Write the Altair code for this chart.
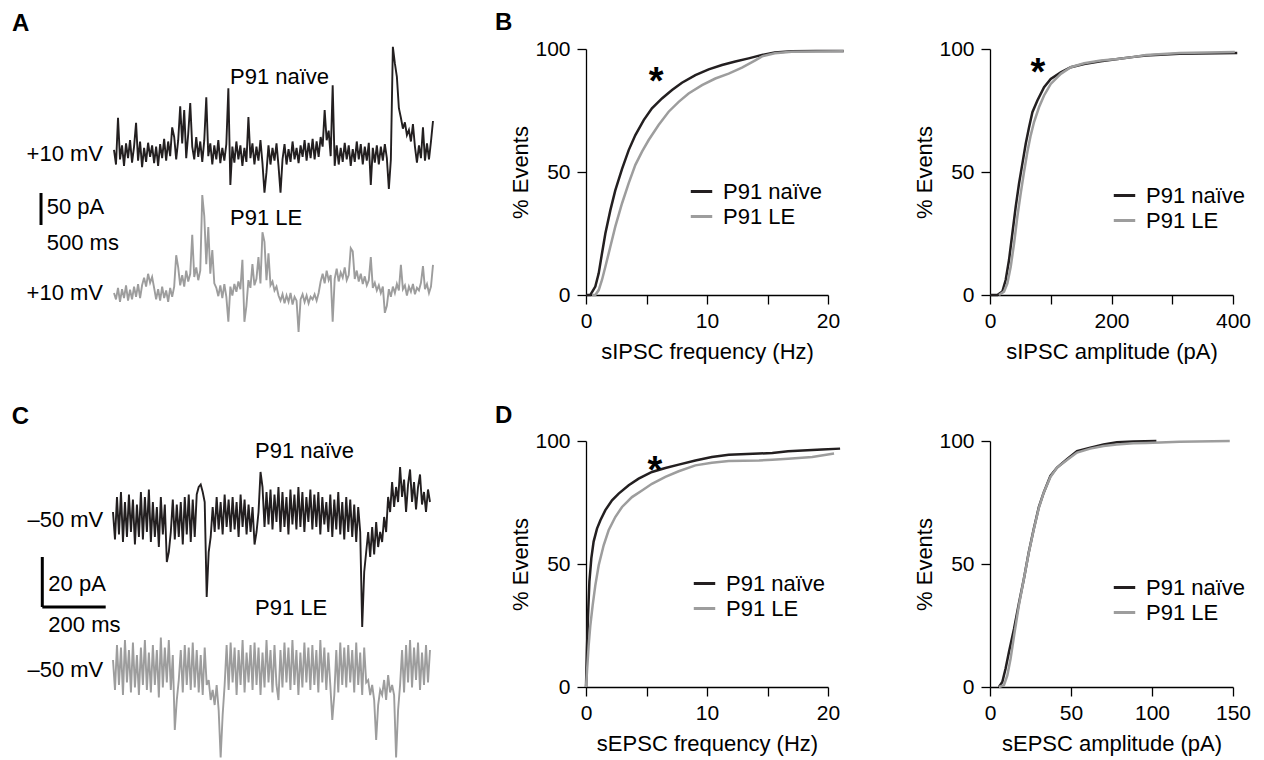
import altair as alt
import pandas as pd
import numpy as np

FONT = "Liberation Sans"
BLACK = "#231f20"
GREY = "#9d9d9d"
SERIES = ["P91 naïve", "P91 LE"]

# ---------------- CDF data ----------------
B1_NAIVE_X = [0.0, 0.36, 0.77, 1.05, 1.32, 1.6, 2.01, 2.42, 2.98, 3.53, 4.08, 4.77, 5.45, 6.28, 7.11, 7.93, 9.04, 10.14, 11.24, 12.34, 13.44, 14.55, 15.6, 17.0, 19.0, 21.3]
B1_NAIVE_Y = [0, 0, 3.4, 8.8, 16.9, 25, 34.4, 42.5, 51.3, 58.9, 65, 71.1, 75.9, 79.9, 83.3, 86.3, 89.4, 91.7, 93.5, 94.9, 96.2, 97.6, 98.6, 99.1, 99.2, 99.2]
B1_LE_X = [0.5, 0.77, 1.05, 1.32, 1.6, 2.01, 2.42, 2.98, 3.53, 4.08, 4.63, 5.18, 6.0, 6.83, 7.66, 8.48, 9.59, 10.69, 11.79, 12.89, 13.99, 14.55, 15.6, 17.0, 19.0, 21.3]
B1_LE_Y = [0, 0, 2, 6.1, 11.5, 19.6, 27.8, 37.3, 45.5, 52.9, 58.3, 63, 69.1, 74.5, 78.5, 81.9, 85.3, 88, 90, 92.4, 95.4, 97, 98.3, 98.9, 99.0, 99.1]

B2_NAIVE_X = [0, 12.1, 20.3, 25.8, 31.3, 36.8, 42.3, 47.8, 53.3, 58.8, 64.3, 69.8, 78, 89, 100, 116.5, 133, 155, 182.4, 210, 237, 257, 312, 407]
B2_NAIVE_Y = [0, 0, 1.4, 6.1, 14.2, 25, 35.8, 45.3, 53.4, 61.5, 68.2, 74.3, 79.1, 84.5, 87.8, 90.5, 92.6, 93.9, 95, 95.9, 96.8, 97.4, 98.1, 98.4]
B2_LE_X = [14.8, 23.1, 28.6, 34.1, 39.6, 45, 50.5, 56, 61.5, 67, 72.5, 80.8, 89, 100, 116.5, 133, 155, 182.4, 210, 237, 257, 312, 403]
B2_LE_Y = [0, 1.4, 4.7, 11.5, 20.9, 31.8, 41.2, 50, 58.1, 64.9, 70.3, 76.4, 81.1, 85.8, 89.9, 92.6, 94.2, 95.3, 95.9, 96.8, 97.6, 98.4, 98.8]

D1_NAIVE_X = [0, 0.08, 0.17, 0.28, 0.44, 0.63, 0.91, 1.19, 1.6, 2.15, 2.7, 3.53, 4.35, 5.45, 6.56, 7.66, 9.04, 10.4, 11.8, 14.3, 15.4, 16.7, 19.5, 21.0]
D1_NAIVE_Y = [0, 15.6, 29.3, 42.8, 52.3, 59.1, 64.4, 67.8, 71.9, 75.9, 78.6, 82, 84.7, 87.4, 89, 90.4, 92.1, 93.5, 94.4, 94.9, 95.1, 95.8, 96.5, 96.9]
D1_LE_X = [0, 0.08, 0.22, 0.36, 0.55, 0.77, 1.05, 1.46, 1.87, 2.42, 2.98, 3.8, 4.63, 5.45, 6.56, 7.66, 9.04, 10.4, 11.8, 14.3, 15.4, 16.7, 18.7, 20.5]
D1_LE_Y = [0, 6.1, 16.9, 25.1, 33.2, 41.3, 49.5, 57.6, 63.7, 69.1, 73.2, 77.2, 79.9, 82.6, 85.4, 87.7, 90.1, 91.2, 91.9, 92.1, 92.4, 92.8, 93.5, 94.9]

D2_NAIVE_X = [5.5, 7.6, 9.6, 11.7, 14.8, 17.8, 20.9, 23.9, 27, 30.1, 33.2, 37.3, 41.4, 47.5, 53.7, 61.9, 70.1, 78.3, 88.5, 102.7]
D2_NAIVE_Y = [0, 2, 7.4, 14.2, 23.6, 33.8, 43.9, 54.7, 64.2, 73, 79.1, 85.8, 89.2, 92.6, 95.9, 97.3, 98.6, 99.5, 99.8, 100]
D2_LE_X = [5.5, 8.6, 10.7, 12.7, 15.2, 17.8, 20.9, 23.9, 27, 30.1, 33.2, 37.3, 41.4, 47.5, 53.7, 61.9, 70.1, 78.3, 88.5, 96.5, 117, 148]
D2_LE_Y = [0, 0.7, 4.7, 11.5, 22.3, 33.1, 43.9, 54.5, 64, 72.7, 79.1, 85.4, 89.2, 92.3, 95.3, 96.9, 98, 98.6, 99.1, 99.2, 99.7, 100]

# ---------------- example traces (pA) ----------------
A_DURATION_MS = 2500
A_BLACK = [5, -18, 55, -10, 12, -20, 15, -8, 20, -15, 10, 47, -12, 18, -22, 8, -14, 16, -6, 12,
           -16, 10, -20, 14, -8, 22, -12, 18, -5, 40, 25, -10, 20, 73, 15, 67, -8, 30, 78, 10,
           -10, 25, -6, 18, -14, 20, 87, -5, 15, -18, 12, -10, 20, -16, 8, -12, 14, 101, -50, 10,
           -15, 18, -10, 12, -20, 8, -14, 56, -8, 15, -18, 10, -12, 20, -16, -62, -30, 12, -18, 8,
           -12, 15, -20, -62, -10, 14, -18, 6, -14, 18, -10, 8, -16, 12, -6, 20, -12, 16, -8, 22,
           -10, 18, -6, 25, 10, 67, 20, 35, -5, 106, -20, 12, -18, 8, -14, 16, -10, 12, -20, 6,
           -14, 18, -10, 14, -18, 10, -12, 16, -50, 8, -15, 12, -18, 10, -12, 14, -8, -56, -10, 166,
           140, 119, 70, 55, 38, 48, 28, 36, 18, 45, 10, -15, 12, -8, 40, -12, 15, -10, 18, 50]
A_GREY = [0, -10, 8, -14, 6, -8, 12, -12, 5, -10, 10, -6, 14, -8, 12, 24, 10, 30, 16, 25,
          8, -10, 6, -12, 10, -8, 4, -14, 8, -6, 10, 59, 40, 12, 28, 10, 35, 18, 30, 91,
          25, 40, 20, 35, 153, 120, 45, 103, 30, 67, 15, 8, -5, 12, -8, 14, -6, -45, 10, -4,
          14, 2, 18, 6, 52, -45, -20, 20, 8, 45, 12, 22, 56, 15, 95, 80, 20, 62, 12, 18,
          4, 10, -4, -12, -2, -16, -4, -14, 0, -18, -6, -12, -61, -10, -2, -14, -4, -16, -6, -10,
          -2, -12, 0, 18, 30, 15, 35, 20, 28, -45, 22, 38, 18, 32, 24, 40, 20, 28, 70, 65,
          22, 35, 18, 30, 14, 26, 12, 20, 56, 8, 16, 4, 12, 0, 10, -31, -20, 6, -6, 10,
          0, 14, 4, 44, 6, 12, -4, 10, 2, 14, -2, 8, 4, 16, 42, 6, 14, 0, 10, 44]

C_DURATION_MS = 1000
C_BLACK = [2, -9, 8, -7, 10, -10, 6, -8, 9, -6, 7, -11, 5, -8, 10, -9, 8, -6, 11, -10,
           6, -8, 4, -12, 8, -7, 5, -18, -14, -6, 7, -9, 5, -8, 6, -11, 8, -7, 9, -10,
           7, -8, 9, 12, 13, 10, 6, -32, -14, -8, 4, -6, 8, -5, 6, -7, 9, -4, 7, -6,
           8, -5, 6, -8, 9, -4, 7, -7, 5, -6, 4, -11, -6, 2, 18, 12, -4, 10, -3, 11,
           -5, 9, -2, 12, -6, 10, -4, 8, -7, 11, -3, 9, -5, 12, -4, 10, -6, 8, -2, 11,
           -5, 9, -4, 10, -7, 8, -3, 6, -6, 9, -8, 7, -5, 10, -7, 6, -9, 8, -6, 7,
           -8, 5, -10, 4, -6, -44, -22, -14, -6, -16, -4, -15, -2, -12, -6, -10, 0, -6, 8, 2,
           14, 4, 12, 6, 20, 8, 15, 2, 13, 19, 6, 14, 3, 12, 17, 5, 10, 2, 11, 6]
C_GREY = [4, -8, 10, -6, 9, -10, 12, -5, 8, -9, 11, -7, 6, -10, 9, -6, 12, -8, 7, -9,
          10, -6, 8, -11, 13, -7, 9, -5, 12, -8, 6, -24, -12, -4, 8, -9, 10, -6, 9, -8,
          11, -7, 8, -9, 6, -10, 9, -6, -4, -12, -8, -14, -6, -16, -35, -18, -6, 10, -8, 11,
          -5, 9, -10, 8, -6, 12, -9, 7, -5, 10, -8, 11, -6, 9, -10, 7, -7, 12, -5, 8,
          -9, 10, -6, -12, 8, -7, 11, -5, 9, -8, 12, -6, 8, -10, 7, -7, 11, -5, 9, -8,
          10, -6, 8, -9, 12, -5, 9, -8, 7, -6, -20, -10, 8, -9, 11, -6, 9, -7, 10, -5,
          8, -9, 11, -6, 7, -10, 9, -5, -4, -10, -6, -12, -28, -14, -8, -10, -4, -12, -2, -9,
          -6, -10, -35, -16, -6, 8, -9, 10, -5, 12, -7, 9, -4, 11, -8, 7, -6, 10, -5, 8]

# ---------------- layout constants ----------------
TRACE_W = 416
COL2_W = 242
COL3_W = 243
PANEL_H = 246

# trace panel scales (ms / pA); grey trace drawn offset below black
A_XDOM = [-830.7, 2429.5]
A_YDOM = [-221.9, 162.5]
A_GREY_OFFSET = -218.75
C_XDOM = [-331.2, 981.1]
C_YDOM = [-68.0, 30.4]
C_GREY_OFFSET = -61.2


def trace_df(vals, duration, offset):
    n = len(vals)
    t = np.arange(n) * (duration / (n - 1))
    return pd.DataFrame({"t": t, "I": np.array(vals, dtype=float) + offset})


def text_layer(df, **kw):
    style = dict(font=FONT, fontSize=22, color="black")
    style.update(kw)
    return alt.Chart(df).mark_text(**style).encode(x="t:Q", y="I:Q", text="label:N")


def trace_panel(black, grey, duration, offset, xdom, ydom, letter, left_texts, right_texts, bars):
    xs = alt.X("t:Q", axis=None, scale=alt.Scale(domain=xdom, nice=False, zero=False))
    ys = alt.Y("I:Q", axis=None, scale=alt.Scale(domain=ydom, nice=False, zero=False))
    lb = alt.Chart(trace_df(black, duration, 0)).mark_line(color=BLACK, strokeWidth=1.9).encode(x=xs, y=ys)
    lg = alt.Chart(trace_df(grey, duration, offset)).mark_line(color=GREY, strokeWidth=1.9).encode(x=xs, y=ys)
    bar = alt.Chart(pd.DataFrame(bars, columns=["t", "t2", "I", "I2"])).mark_rule(
        color="black", strokeWidth=3).encode(x="t:Q", x2="t2:Q", y="I:Q", y2="I2:Q")
    let = text_layer(pd.DataFrame([letter], columns=["t", "I", "label"]),
                     align="left", baseline="alphabetic", fontWeight="bold", fontSize=24)
    lt = text_layer(pd.DataFrame(left_texts, columns=["t", "I", "label"]), align="left", baseline="middle")
    rt = text_layer(pd.DataFrame(right_texts, columns=["t", "I", "label"]), align="right", baseline="middle")
    return alt.layer(lb, lg, bar, let, lt, rt).properties(width=TRACE_W, height=PANEL_H)


def cdf_panel(nx, ny, lx, ly, xdom, xticks, label_every, xtitle, width, legend_xy, star, letter=None):
    df = pd.DataFrame({
        "x": nx + lx,
        "y": ny + ly,
        "series": [SERIES[0]] * len(nx) + [SERIES[1]] * len(lx),
    })
    color = alt.Color(
        "series:N",
        scale=alt.Scale(domain=SERIES, range=[BLACK, GREY]),
        sort=SERIES,
        legend=alt.Legend(orient="none", legendX=legend_xy[0], legendY=legend_xy[1], title=None,
                          symbolType="stroke", symbolSize=460, symbolStrokeWidth=3,
                          labelFontSize=22, labelFont=FONT, labelColor="black", labelOffset=9,
                          rowPadding=1, padding=0, labelLimit=0),
    )
    label_expr = f"datum.value % {label_every} === 0 ? datum.label : ''"
    xenc = alt.X("x:Q", scale=alt.Scale(domain=xdom, nice=False, zero=False),
                 axis=alt.Axis(values=xticks, labelExpr=label_expr, title=xtitle, labelFlush=False))
    yenc = alt.Y("y:Q", scale=alt.Scale(domain=[0, 100], nice=False),
                 axis=alt.Axis(values=[0, 50, 100], title="% Events"))
    lines = alt.Chart(df).mark_line(strokeWidth=2.5).encode(x=xenc, y=yenc, color=color)
    layers = [lines]
    if star is not None:
        layers.append(alt.Chart(pd.DataFrame([star], columns=["x", "y", "label"])).mark_text(
            font=FONT, fontSize=38, fontWeight="bold", color="black", align="center", baseline="alphabetic"
        ).encode(x="x:Q", y="y:Q", text="label:N"))
    if letter is not None:
        layers.append(alt.Chart(pd.DataFrame([letter], columns=["x", "y", "label"])).mark_text(
            font=FONT, fontSize=24, fontWeight="bold", color="black", align="left", baseline="alphabetic"
        ).encode(x="x:Q", y="y:Q", text="label:N"))
    return alt.layer(*layers).properties(width=width, height=PANEL_H)


traceA = trace_panel(
    A_BLACK, A_GREY, A_DURATION_MS, A_GREY_OFFSET, A_XDOM, A_YDOM,
    letter=(-799, 190.6, "A"),
    left_texts=[(909, 118.3, "P91 naïve"), (909, -102, "P91 LE"),
                (-527, -84, "50 pA"), (-527, -141, "500 ms")],
    right_texts=[(-86, -2, "+10 mV"), (-86, -219.2, "+10 mV")],
    bars=[(-572, -572, -62.5, -112.5)],
)
traceC = trace_panel(
    C_BLACK, C_GREY, C_DURATION_MS, C_GREY_OFFSET, C_XDOM, C_YDOM,
    letter=(-319.6, 37.4, "C"),
    left_texts=[(448, 26.5, "P91 naïve"), (448, -36.5, "P91 LE"),
                (-204, -26.8, "20 pA"), (-204, -43.2, "200 ms")],
    right_texts=[(-30.6, -1.2, "–50 mV"), (-30.6, -61.2, "–50 mV")],
    bars=[(-223, -223, -16, -36), (-223, -23, -36, -36)],
)

B1 = cdf_panel(B1_NAIVE_X, B1_NAIVE_Y, B1_LE_X, B1_LE_Y, [0, 20], [0, 5, 10, 15, 20], 10,
               "sIPSC frequency (Hz)", COL2_W, (103, 130), (5.8, 81.7, "*"), (-7.52, 107.7, "B"))
B2 = cdf_panel(B2_NAIVE_X, B2_NAIVE_Y, B2_LE_X, B2_LE_Y, [0, 400], [0, 100, 200, 300, 400], 200,
               "sIPSC amplitude (pA)", COL3_W, (122, 134), (79, 85.4, "*"))
D1 = cdf_panel(D1_NAIVE_X, D1_NAIVE_Y, D1_LE_X, D1_LE_Y, [0, 20], [0, 5, 10, 15, 20], 10,
               "sEPSC frequency (Hz)", COL2_W, (106, 130), (5.7, 82.9, "*"), (-7.52, 107.5, "D"))
D2 = cdf_panel(D2_NAIVE_X, D2_NAIVE_Y, D2_LE_X, D2_LE_Y, [0, 150], [0, 50, 100, 150], 50,
               "sEPSC amplitude (pA)", COL3_W, (122, 134), None)

chart = alt.concat(
    traceA, B1, B2, traceC, D1, D2,
    columns=3,
    spacing={"row": 146, "column": 162},
    bounds="flush",
    align="each",
).resolve_scale(
    color="independent",
).resolve_legend(
    color="independent",
).properties(
    padding={"left": 0, "top": 3, "right": 5, "bottom": 5},
    background="white",
).configure_view(
    stroke=None,
).configure_axis(
    domainColor="black", domainWidth=1.3, tickColor="black", tickWidth=1.3, tickSize=9,
    labelFont=FONT, labelFontSize=21, labelColor="black",
    titleFont=FONT, titleFontSize=22, titleFontWeight="normal", titleColor="black",
    grid=False,
).configure_axisX(
    labelPadding=6, titlePadding=10,
).configure_axisY(
    labelPadding=7, titlePadding=2,
)

chart.save("out.html", embed_options={"renderer": "svg", "actions": False})
